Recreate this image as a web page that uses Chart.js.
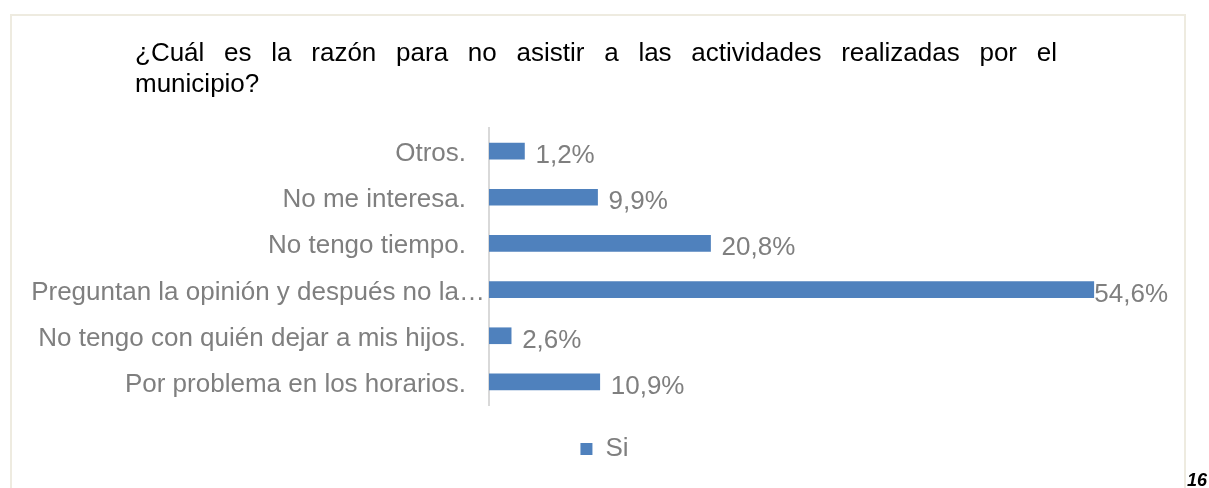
<!DOCTYPE html>
<html>
<head>
<meta charset="utf-8">
<script src="https://cdn.jsdelivr.net/npm/chart.js@4"></script>
<style>
  body { margin: 0; background: #fff; }
  #frame { position: absolute; left: 10px; top: 14px; width: 1172px; height: 490px;
           border: 2px solid #EEEBE0; border-bottom: none; }
  #chart { position: absolute; left: 0; top: 0; }
  #page { position: absolute; left: 1187px; top: 470px; font: italic bold 18px "Liberation Sans", Arial, sans-serif; color: #000; }
</style>
</head>
<body>
<div id="frame"></div>
<canvas id="chart" width="1209" height="488"></canvas>
<div id="page">16</div>
<script>
// Chart data (top to bottom as shown)
const categories = [
    'Otros.',
    'No me interesa.',
    'No tengo tiempo.',
    'Preguntan la opinión y después no la…',
    'No tengo con quién dejar a mis hijos.',
    'Por problema en los horarios.'
];
// bar lengths as drawn in the picture (percent)
const barLengths = [3.2, 9.8, 20.0, 54.6, 2.0, 10.0];
// values printed next to each bar
const valueLabels = ['1,2%', '9,9%', '20,8%', '54,6%', '2,6%', '10,9%'];
const seriesName = 'Si';
const titleLines = [
    '¿Cuál es la razón para no asistir a las actividades realizadas por el',
    'municipio?'
];

const FONT = '"Liberation Sans", Arial, sans-serif';
const GRAY = '#7F7F7F';
const BLUE = '#4F81BD';

// Title (justified first line), category labels and value labels
const textPlugin = {
    id: 'texts',
    afterDraw(chart) {
        const ctx = chart.ctx;
        const area = chart.chartArea;
        const yScale = chart.scales.y;
        const xScale = chart.scales.x;
        ctx.save();

        // title
        ctx.font = '26px ' + FONT;
        ctx.fillStyle = '#000';
        ctx.textAlign = 'left';
        ctx.textBaseline = 'alphabetic';
        const titleLeft = 135, titleRight = 1057;
        const words = titleLines[0].split(' ');
        const widths = words.map(w => ctx.measureText(w).width);
        const total = widths.reduce((a, b) => a + b, 0);
        const gap = (titleRight - titleLeft - total) / (words.length - 1);
        let tx = titleLeft;
        words.forEach((w, i) => {
            ctx.fillText(w, tx, 61);
            tx += widths[i] + gap;
        });
        ctx.fillText(titleLines[1], titleLeft, 92);

        // category labels
        ctx.fillStyle = GRAY;
        ctx.textAlign = 'right';
        categories.forEach((label, i) => {
            const y = yScale.getPixelForTick(i);
            const w = ctx.measureText(label).width;
            let x = area.left - 23;
            if (x - w < 28) x = area.left - 4; // truncated label fills the space
            ctx.fillText(label, x, y + 10);
        });

        // value labels
        ctx.textAlign = 'left';
        valueLabels.forEach((label, i) => {
            const y = yScale.getPixelForTick(i);
            const w = ctx.measureText(label).width;
            let x = xScale.getPixelForValue(barLengths[i]) + 11;
            const limit = area.right - 41;
            if (x + w > limit) x = limit - w;
            ctx.fillText(label, x, y + 12);
        });
        ctx.restore();
    }
};

const ctx = document.getElementById('chart').getContext('2d');
const chart = new Chart(ctx, {
    type: 'bar',
    data: {
        labels: categories,
        datasets: [{
            label: seriesName,
            data: barLengths,
            backgroundColor: BLUE,
            borderWidth: 0,
            barThickness: 16
        }]
    },
    options: {
        indexAxis: 'y',
        responsive: false,
        animation: false,
        layout: { padding: { top: 128, left: 0, right: 0, bottom: 16 } },
        scales: {
            x: {
                min: 0,
                max: 65,
                grid: { display: false, drawTicks: false },
                border: { display: false },
                ticks: { display: false },
                afterFit: scale => { scale.height = 21; }
            },
            y: {
                grid: { display: false, drawTicks: false },
                border: { display: true, color: '#D9D9D9', width: 2 },
                ticks: { display: false },
                afterFit: scale => { scale.width = 489; }
            }
        },
        plugins: {
            title: { display: false },
            tooltip: { enabled: false },
            legend: {
                position: 'bottom',
                labels: {
                    boxWidth: 12,
                    boxHeight: 12,
                    color: GRAY,
                    font: { size: 26, family: FONT }
                }
            }
        }
    },
    plugins: [textPlugin]
});
</script>
</body>
</html>
